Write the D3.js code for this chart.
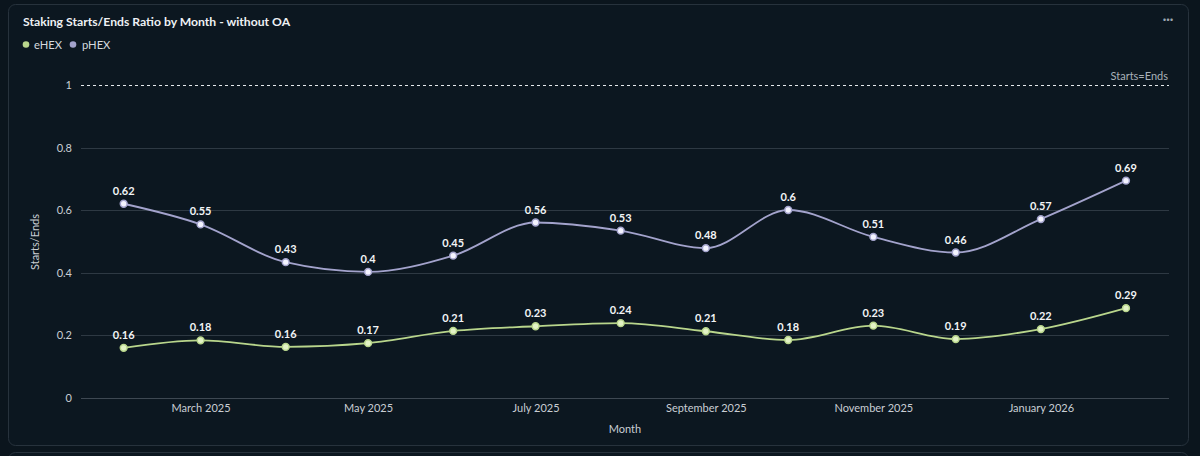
<!DOCTYPE html>
<html><head><meta charset="utf-8">
<script src="https://cdn.jsdelivr.net/npm/d3@7"></script>
<style>
html,body{margin:0;padding:0;background:#0b151d;}
svg{display:block;font-family:Lato,"Open Sans",sans-serif;}
</style></head>
<body>
<svg id="c" width="1200" height="456"></svg>
<script>
const months = ["2025-02","2025-03","2025-04","2025-05","2025-06","2025-07","2025-08","2025-09","2025-10","2025-11","2025-12","2026-01","2026-02"];
const eHEX = [0.159,0.183,0.162,0.174,0.213,0.228,0.238,0.212,0.184,0.23,0.187,0.219,0.286];
const pHEX = [0.62,0.554,0.433,0.402,0.454,0.56,0.534,0.478,0.6,0.514,0.464,0.571,0.694];
const yTicks = [0,0.2,0.4,0.6,0.8,1];
const seriesNames = ["eHEX","pHEX"];
const refValue = 1, refLabel = "Starts=Ends";

const parse = d3.timeParse("%Y-%m");
const dates = months.map(parse);
const svg = d3.select("#c");

// card
svg.append("rect").attr("x",8.5).attr("y",4.5).attr("width",1180).attr("height",441)
  .attr("rx",7).attr("fill","#0c1720").attr("stroke","#27323c");
svg.append("rect").attr("x",8.5).attr("y",452.5).attr("width",1180).attr("height",30)
  .attr("rx",7).attr("fill","#0c1720").attr("stroke","#27323c");

svg.append("text").attr("x",23).attr("y",26).attr("fill","#eef1f4")
  .attr("font-size",12.2).attr("font-weight",700).text("Staking Starts/Ends Ratio by Month - without OA");
svg.append("text").attr("x",1168).attr("y",24).attr("fill","#9aa4ae").attr("font-size",13)
  .attr("text-anchor","middle").attr("font-weight",700).text("···");

const colors = {eHEX:"#b9d68c", pHEX:"#a3a3cc"};
const dotFill = {eHEX:"#e3f3c6", pHEX:"#f4f4ff"};

// legend
const leg = svg.append("g");
[["eHEX",26,34],["pHEX",73,82]].forEach(([n,cx,tx])=>{
  leg.append("circle").attr("cx",cx).attr("cy",44.5).attr("r",3.3).attr("fill",colors[n]);
  leg.append("text").attr("x",tx).attr("y",48.5).attr("fill","#d5dadf").attr("font-size",11.2).text(n);
});

const x = d3.scaleTime().domain([new Date(2025,0,16,11), new Date(2026,1,16,16)]).range([81,1169]);
const y = d3.scaleLinear().domain([0,1]).range([397.5,85]);

// grid
svg.append("g").selectAll("line").data(yTicks.filter(t=>t!==refValue)).join("line")
  .attr("x1",81).attr("x2",1169).attr("y1",d=>Math.round(y(d))+0.5).attr("y2",d=>Math.round(y(d))+0.5)
  .attr("stroke",d=>d===0?"#3e4852":"#2e3943").attr("stroke-width",1);

// y axis labels
const ya = svg.append("g").attr("transform","translate(81,0)")
  .call(d3.axisLeft(y).tickValues(yTicks).tickSize(0).tickPadding(9).tickFormat(d3.format("~g")));
ya.select(".domain").remove();
ya.selectAll("text").attr("fill","#c9ced4").attr("font-size",11).attr("font-family","Lato");

// ref line
svg.append("line").attr("x1",81).attr("x2",1169).attr("y1",y(refValue)+0.5).attr("y2",y(refValue)+0.5)
  .attr("stroke","#e6e9ec").attr("stroke-width",1.2).attr("stroke-dasharray","3,3");
svg.append("text").attr("x",1168).attr("y",y(refValue)-5).attr("text-anchor","end")
  .attr("fill","#a9b1b9").attr("font-size",11).text(refLabel);

// x axis
const xa = svg.append("g").attr("transform","translate(0,398)")
  .call(d3.axisBottom(x).ticks(d3.timeMonth.every(2)).tickSize(0).tickPadding(6).tickFormat(d3.timeFormat("%B %Y")));
xa.select(".domain").remove();
xa.selectAll("text").attr("fill","#c9ced4").attr("font-size",11).attr("font-family","Lato");

svg.append("text").attr("x",625).attr("y",433).attr("text-anchor","middle").attr("fill","#c9ced4")
  .attr("font-size",11).text("Month");
svg.append("text").attr("transform","translate(39,242) rotate(-90)").attr("text-anchor","middle")
  .attr("fill","#c9ced4").attr("font-size",11).text("Starts/Ends");

const line = d3.line().x(d=>x(d[0])).y(d=>y(d[1])).curve(d3.curveMonotoneX);
const fmt = d3.format(".2~f");
[["pHEX",pHEX],["eHEX",eHEX]].forEach(([n,vals])=>{
  const data = dates.map((d,i)=>[d,vals[i]]);
  svg.append("path").datum(data).attr("d",line).attr("fill","none").attr("stroke",colors[n]).attr("stroke-width",1.8);
  svg.append("g").selectAll("circle").data(data).join("circle")
    .attr("cx",d=>x(d[0])).attr("cy",d=>y(d[1])).attr("r",3.4)
    .attr("fill",dotFill[n]).attr("stroke",colors[n]).attr("stroke-width",1.5);
  svg.append("g").selectAll("text").data(data).join("text")
    .attr("x",d=>x(d[0])).attr("y",d=>y(d[1])-9).attr("text-anchor","middle")
    .attr("fill","#f2f4f6").attr("font-size",11).attr("font-weight",700).text(d=>fmt(d[1]));
});
</script>
</body></html>
